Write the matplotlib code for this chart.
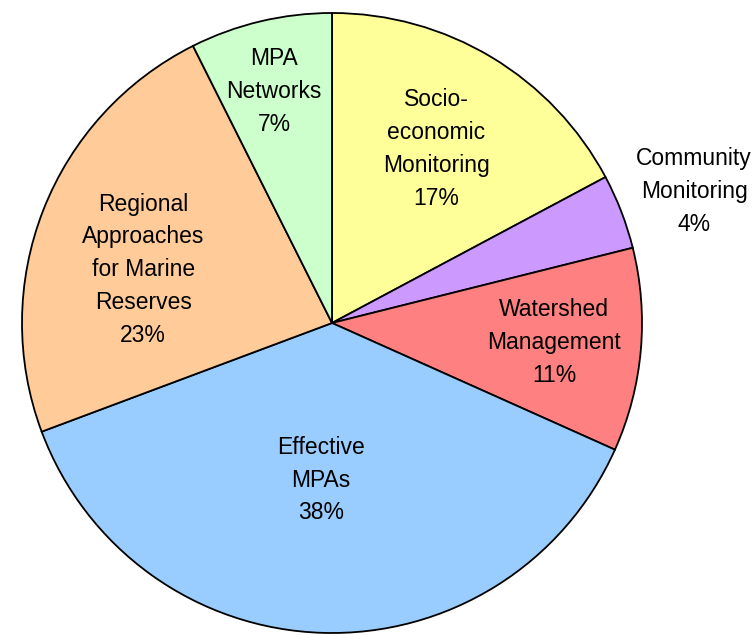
import numpy as np
import matplotlib.pyplot as plt

plt.rcParams["font.family"] = ["Liberation Sans", "DejaVu Sans"]

# slices, clockwise from 12 o'clock
names = ["Socio-\neconomic\nMonitoring", "Community\nMonitoring", "Watershed\nManagement",
         "Effective\nMPAs", "Regional\nApproaches\nfor Marine\nReserves", "MPA\nNetworks"]
shares = [17.2, 3.9, 10.6, 37.6, 23.3, 7.4]
pct_labels = ["17%", "4%", "11%", "38%", "23%", "7%"]
colors = ["#FFFF99", "#CC99FF", "#FF8080", "#99CCFF", "#FFCC99", "#CCFFCC"]
# label placement: distance (fraction of radius) and tweak of the mid angle (deg)
label_r = [0.655, 1.243, 0.72, 0.508, 0.633, 0.771]
label_dang = [0, -1.1, 0, -2.2, 5.7, 0.7]

fig = plt.figure(figsize=(7.53, 6.35), dpi=100)
ax = fig.add_axes([22 / 753, 2 / 635, 620 / 753, 620 / 635])

wedges, _ = ax.pie(shares, colors=colors, startangle=90, counterclock=False,
                   radius=1.0, wedgeprops=dict(edgecolor="black", linewidth=1.3))

for w, name, pct, r, da in zip(wedges, names, pct_labels, label_r, label_dang):
    ang = np.deg2rad((w.theta1 + w.theta2) / 2 + da)
    ax.text(r * np.cos(ang), r * np.sin(ang), name + "\n" + pct,
            ha="center", va="center", fontsize=16.5, linespacing=1.55)

ax.set_xlim(-1, 1)
ax.set_ylim(-1, 1)
ax.set_aspect("equal")
ax.axis("off")

fig.savefig("out.png", dpi=100)
